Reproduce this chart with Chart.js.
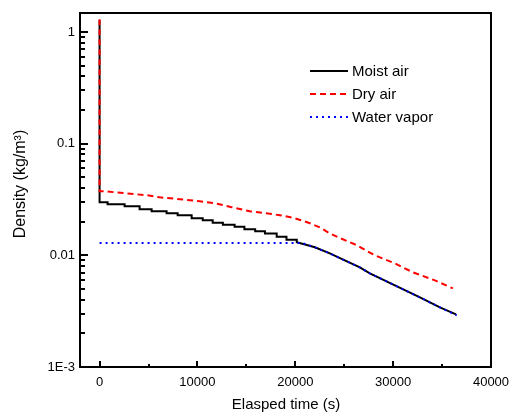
<!DOCTYPE html>
<html>
<head>
<meta charset="utf-8">
<script src="https://cdn.jsdelivr.net/npm/chart.js@4/dist/chart.umd.min.js"></script>
<style>
  html, body { margin: 0; padding: 0; background: #fff; }
  #wrap { width: 512px; height: 419px; }
</style>
</head>
<body>
<div id="wrap"><canvas id="chart"></canvas></div>
<script>
// Series data (time in s, density in kg/m3)
const moistTime = [0, 0, 820, 820, 2560, 2560, 4090, 4090, 5320, 5320, 6850, 6850, 7980, 7980, 9410, 9410, 10540, 10540, 11560, 11560,
    12600, 12600, 13800, 13800, 14800, 14800, 15900, 15900, 16900, 16900, 18100, 18100, 19100, 19100, 20150, 20150,
    22000, 23530, 25060, 26600, 27620, 30180, 32740, 34780, 36420];
const moistDensity = [1.28, 0.0299, 0.0299, 0.0287, 0.0287, 0.0275, 0.0275, 0.0259, 0.0259, 0.0248, 0.0248, 0.0238, 0.0238, 0.0228, 0.0228, 0.0215, 0.0215, 0.0206, 0.0206, 0.0196,
    0.0196, 0.0188, 0.0188, 0.0180, 0.0180, 0.0171, 0.0171, 0.0164, 0.0164, 0.0157, 0.0157, 0.0147, 0.0147, 0.0138, 0.0138, 0.0131,
    0.0118, 0.0104, 0.0090, 0.0078, 0.0069, 0.00538, 0.00420, 0.00342, 0.00296];

const dryTime = [0, 0, 510, 2560, 4910, 6140, 8190, 10230, 11770, 13500, 15350, 16980, 18420, 19950, 21490, 22510, 23540, 24560, 26300, 28130, 30180, 32020, 34270, 36100];
const dryDensity = [1.30, 0.0375, 0.0375, 0.0360, 0.0345, 0.0331, 0.0318, 0.0305, 0.0293, 0.0270, 0.0248, 0.0238, 0.0229, 0.0215, 0.0194, 0.0178, 0.0157, 0.0143, 0.0123, 0.0100, 0.00848, 0.00704, 0.00597, 0.00506];

const vaporTime = [0, 20700, 22000, 23530, 25060, 26600, 27620, 30180, 32740, 34780, 36500];
const vaporDensity = [0.0129, 0.0129, 0.0118, 0.0104, 0.0090, 0.0078, 0.0069, 0.00538, 0.00420, 0.00342, 0.00290];

const seriesNames = ['Moist air', 'Dry air', 'Water vapor'];

// Axis ticks
const xTickValues = [0, 10000, 20000, 30000, 40000];
const xMinorTicks = [5000, 15000, 25000, 35000];
const yTickValues = [0.001, 0.01, 0.1, 1];
const yTickLabels = ['1E-3', '0.01', '0.1', '1'];

const FONT = '"Liberation Sans", Arial, sans-serif';

function toPoints(xs, ys) {
    return xs.map((x, i) => ({ x: x, y: ys[i] }));
}

// Frame, inward ticks, axis titles and legend
const decorPlugin = {
    id: 'decor',
    afterDraw(chart) {
        const ctx = chart.ctx;
        const area = chart.chartArea;
        const xs = chart.scales.x;
        const ys = chart.scales.y;

        ctx.save();
        ctx.strokeStyle = '#000';
        ctx.lineWidth = 2;
        ctx.setLineDash([]);
        ctx.strokeRect(area.left, area.top, area.right - area.left, area.bottom - area.top);

        // x ticks (pointing up into the plot)
        ctx.beginPath();
        xTickValues.forEach(v => {
            const px = Math.round(xs.getPixelForValue(v));
            ctx.moveTo(px, area.bottom);
            ctx.lineTo(px, area.bottom - 6);
        });
        xMinorTicks.forEach(v => {
            const px = Math.round(xs.getPixelForValue(v));
            ctx.moveTo(px, area.bottom);
            ctx.lineTo(px, area.bottom - 3);
        });
        // y ticks (pointing right into the plot)
        yTickValues.forEach(v => {
            const py = Math.round(ys.getPixelForValue(v));
            ctx.moveTo(area.left, py);
            ctx.lineTo(area.left + 8, py);
        });
        yTickValues.forEach(d => {
            for (let m = 2; m <= 9; m++) {
                const v = d * m;
                if (v > ys.max) continue;
                const py = Math.round(ys.getPixelForValue(v));
                ctx.moveTo(area.left, py);
                ctx.lineTo(area.left + 5, py);
            }
        });
        ctx.stroke();

        // axis titles
        ctx.fillStyle = '#000';
        ctx.font = '15px ' + FONT;
        ctx.textAlign = 'center';
        ctx.textBaseline = 'middle';
        ctx.fillText('Elasped time (s)', 286, 405);

        ctx.save();
        ctx.translate(21, 184);
        ctx.rotate(-Math.PI / 2);
        ctx.font = '16px ' + FONT;
        ctx.fillText('Density (kg/m\u00B3)', 0, 0);
        ctx.restore();

        // legend
        ctx.textAlign = 'left';
        ctx.font = '15px ' + FONT;
        const rows = [71, 94, 117];
        chart.data.datasets.forEach((ds, i) => {
            const y = rows[i];
            ctx.beginPath();
            ctx.strokeStyle = ds.borderColor;
            ctx.lineWidth = 2;
            ctx.setLineDash(ds.borderDash || []);
            ctx.moveTo(310, y);
            ctx.lineTo(348, y);
            ctx.stroke();
            ctx.setLineDash([]);
            ctx.fillStyle = '#000';
            ctx.fillText(ds.label, 352, y + 1);
        });
        ctx.restore();
    }
};

new Chart(document.getElementById('chart'), {
    type: 'scatter',
    data: {
        datasets: [
            {
                label: seriesNames[0],
                data: toPoints(moistTime, moistDensity),
                borderColor: '#000000',
                borderWidth: 2,
                showLine: true,
                pointRadius: 0,
                order: 2
            },
            {
                label: seriesNames[1],
                data: toPoints(dryTime, dryDensity),
                borderColor: '#ff0000',
                borderWidth: 2,
                borderDash: [6, 4],
                showLine: true,
                pointRadius: 0,
                order: 1
            },
            {
                label: seriesNames[2],
                data: toPoints(vaporTime, vaporDensity),
                borderColor: '#0000ff',
                borderWidth: 2,
                borderDash: [2, 4],
                showLine: true,
                pointRadius: 0,
                order: 0
            }
        ]
    },
    options: {
        responsive: true,
        maintainAspectRatio: false,
        animation: false,
        layout: { padding: { top: 13, right: 21, left: 0, bottom: 0 } },
        plugins: {
            legend: { display: false },
            tooltip: { enabled: false }
        },
        scales: {
            x: {
                type: 'linear',
                min: -2000,
                max: 40000,
                grid: { display: false, drawTicks: false },
                border: { display: false },
                afterFit: s => { s.height = 52; s.paddingLeft = 0; s.paddingRight = 0; },
                afterBuildTicks: s => { s.ticks = xTickValues.map(v => ({ value: v })); },
                ticks: {
                    padding: 8,
                    color: '#000',
                    font: { family: FONT, size: 13 },
                    maxRotation: 0,
                    callback: v => String(v)
                }
            },
            y: {
                type: 'logarithmic',
                min: 0.001,
                max: 1.48,
                grid: { display: false, drawTicks: false },
                border: { display: false },
                afterFit: s => { s.width = 80; s.paddingTop = 0; s.paddingBottom = 0; },
                afterBuildTicks: s => { s.ticks = yTickValues.map(v => ({ value: v })); },
                ticks: {
                    padding: 5,
                    color: '#000',
                    font: { family: FONT, size: 13 },
                    callback: v => yTickLabels[yTickValues.indexOf(v)]
                }
            }
        }
    },
    plugins: [decorPlugin]
});
</script>
</body>
</html>
